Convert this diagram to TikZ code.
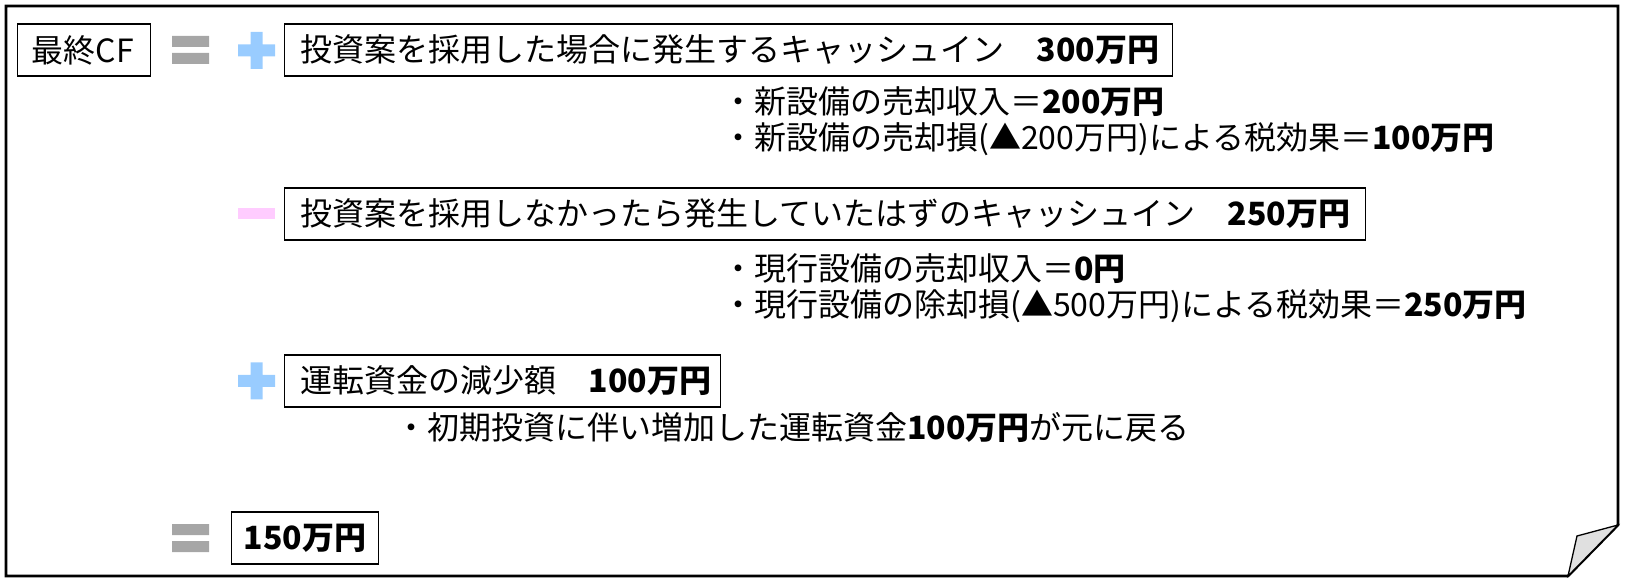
\documentclass[tikz,border=0pt]{standalone}
\usepackage{fontspec}
\setmainfont{Noto Sans CJK JP}
\usepackage{tikz}
\usetikzlibrary{positioning}
\definecolor{eqgray}{RGB}{166, 166, 166}
\definecolor{plusblue}{RGB}{153, 204, 255}
\definecolor{minuspink}{RGB}{255, 204, 255}
\definecolor{foldgray}{RGB}{224, 224, 224}
\newcommand{\bigfont}{\fontsize{32pt}{38pt}\selectfont}
\tikzstyle{sheet} = [draw=black, line width=2.7pt, line join=miter]
\tikzstyle{fold} = [draw=black, line width=1.3pt, fill=foldgray, line join=miter]
\tikzstyle{box} = [rectangle, draw=black, line width=1.3pt, minimum height=52pt, inner xsep=16pt, inner ysep=0pt, anchor=west, align=left, text=black, font=\bigfont]
\tikzstyle{note} = [draw=none, fill=none, inner sep=0pt, anchor=west, text=black, font=\bigfont]
\tikzstyle{eqbar} = [fill=eqgray]
\tikzstyle{plusbar} = [fill=plusblue]
\tikzstyle{minusbar} = [fill=minuspink]

\begin{document}
\begin{tikzpicture}[x=1pt, y=-1pt]
\useasboundingbox (0,0) rectangle (1626,585);

% sheet with turned corner =============================
\draw[sheet] (6,6) -- (1618,6) -- (1618,525) -- (1568,576) -- (6,576) -- cycle;
\draw[fold] (1618,525) -- (1577,536) -- (1568,576) -- cycle;

% boxes
\node[box, text width=105pt, inner xsep=14pt] (cf) at (17,50) {最終CF};
\node[box, text width=856pt] (inflow) at (284,50) {投資案を採用した場合に発生するキャッシュイン　\textbf{300万円}};
\node[box, text width=1049pt] (lost) at (284,214) {投資案を採用しなかったら発生していたはずのキャッシュイン　\textbf{250万円}};
\node[box, text width=404pt] (wc) at (284,381) {運転資金の減少額　\textbf{100万円}};
\node[box, text width=123pt, inner xsep=12pt] (total) at (231,538) {\textbf{150万円}};

% notes
\node[note] (n1) at (722,102) {・新設備の売却収入＝\textbf{200万円}};
\node[note, below=37pt of n1.west, anchor=west] (n2) {・新設備の売却損(▲200万円)による税効果＝\textbf{100万円}};
\node[note] (n3) at (722,269) {・現行設備の売却収入＝\textbf{0円}};
\node[note, below=37pt of n3.west, anchor=west] (n4) {・現行設備の除却損(▲500万円)による税効果＝\textbf{250万円}};
\node[note] (n5) at (395,427) {・初期投資に伴い増加した運転資金\textbf{100万円}が元に戻る};

% signs
\fill[eqbar, shift={(190.5,50)}] (-18.5,-14) rectangle (18.5,-3) (-18.5,3) rectangle (18.5,14);
\fill[plusbar, shift={(256.5,50.5)}] (-18.5,-6) rectangle (18.5,6) (-6,-18.5) rectangle (6,18.5);
\fill[minusbar, shift={(256.5,213.5)}] (-18.5,-5.5) rectangle (18.5,5.5);
\fill[plusbar, shift={(256.5,381)}] (-18.5,-6) rectangle (18.5,6) (-6,-18.5) rectangle (6,18.5);
\fill[eqbar, shift={(190.5,538)}] (-18.5,-14) rectangle (18.5,-3) (-18.5,3) rectangle (18.5,14);

\end{tikzpicture}
\end{document}
